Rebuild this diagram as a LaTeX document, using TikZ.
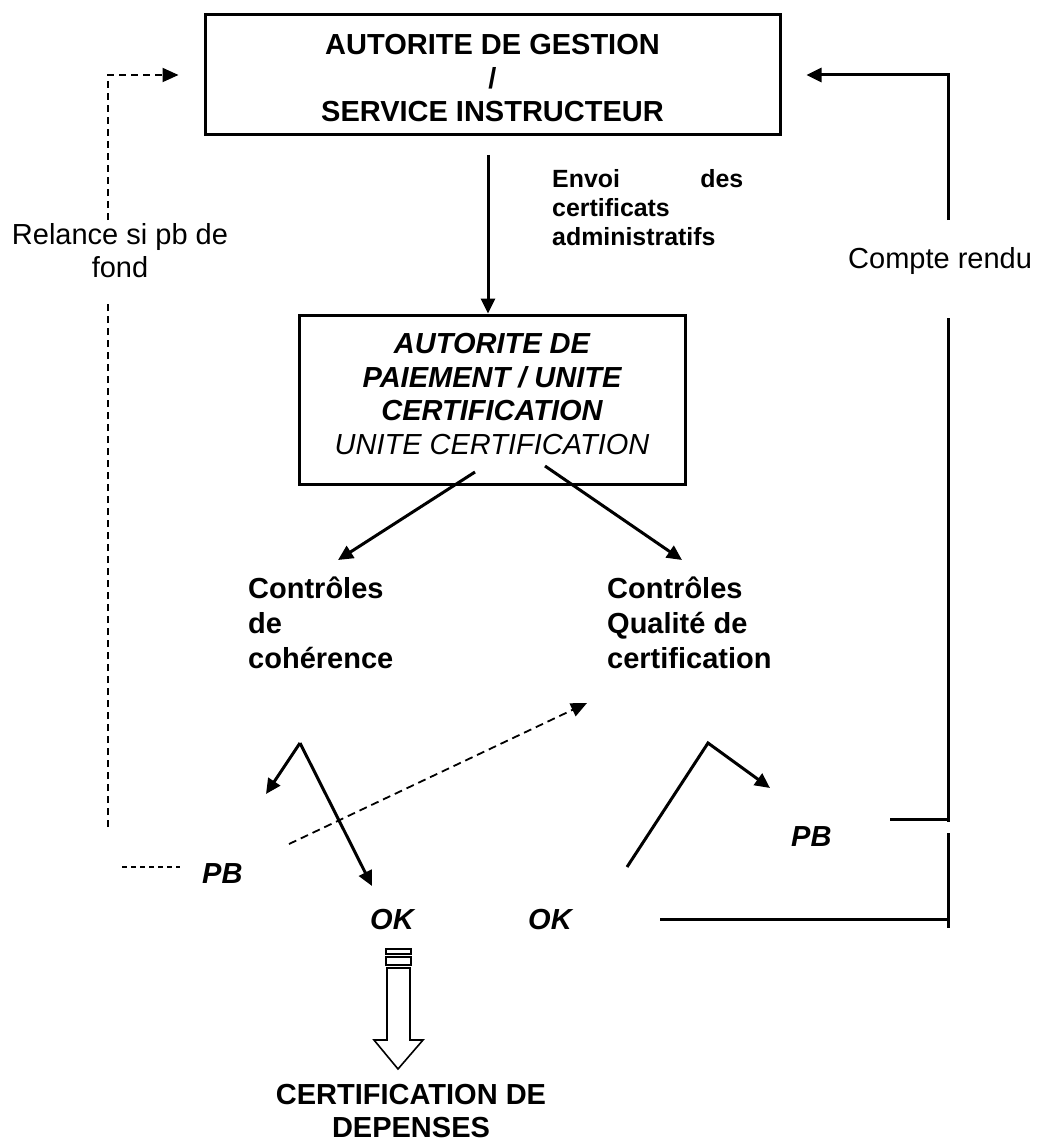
\documentclass[tikz,border=0pt]{standalone}
\usepackage{fontspec}
\setmainfont{Liberation Sans}
\usetikzlibrary{arrows.meta}
\newcommand\myBig{\fontsize{29}{33.5}\selectfont}
\newcommand\mySmall{\fontsize{24.9}{28.6}\selectfont}
\begin{document}
\begin{tikzpicture}[x=1pt,y=-1pt,
  box/.style={draw, line width=3pt, inner sep=0pt},
  ln/.style={line width=3pt},
  arr/.style={line width=3pt, -{Triangle[length=15pt,width=14pt]}},
  dsh/.style={line width=2pt, dash pattern=on 7pt off 5pt},
  dtip/.style={-{Triangle[length=16pt,width=14pt]}},
  txt/.style={inner sep=0pt, anchor=base west, font=\myBig},
  blk/.style={line width=1.6pt, line join=miter}]
\useasboundingbox (0,0) rectangle (1036,1142);

% boxes
\node[box, minimum width=575pt, minimum height=120pt, align=center, font=\myBig\bfseries] (ag) at (492.5,75)
  {\rule{0pt}{27pt}AUTORITE DE GESTION\\/\\SERVICE INSTRUCTEUR};
\node[box, minimum width=386pt, minimum height=169pt, align=center, font=\myBig] (ap) at (492,399.5)
  {{\bfseries\itshape AUTORITE DE}\\{\bfseries\itshape PAIEMENT / UNITE}\\{\bfseries\itshape CERTIFICATION}\\{\itshape UNITE CERTIFICATION\rule[-11pt]{0pt}{0pt}}};

% texts
\node[txt] (rl) at (120,244) [anchor=base] {\parbox[t]{240pt}{\centering Relance si pb de\\fond}};
\node[txt] (cr) at (848,268) {Compte rendu};
\node[txt] (env) at (552,188) {\mySmall\bfseries\parbox[t]{191pt}{Envoi\hfill des\\certificats\\administratifs}};
\node[txt] (cc) at (248,598) {\fontsize{29}{35}\selectfont\bfseries\parbox[t]{200pt}{Contr\^oles\\de\\coh\'erence}};
\node[txt] (cq) at (607,598) {\fontsize{29}{35}\selectfont\bfseries\parbox[t]{220pt}{Contr\^oles\\Qualit\'e de\\certification}};
\node[txt, font=\myBig\bfseries\itshape] (pbL) at (202,883) {PB};
\node[txt, font=\myBig\bfseries\itshape] (pbR) at (791,846) {PB};
\node[txt, font=\myBig\bfseries\itshape] (ok1) at (370,929) {OK};
\node[txt, font=\myBig\bfseries\itshape] (ok2) at (528,929) {OK};
\node[txt, anchor=base, font=\myBig\bfseries] (cd) at (411,1104) {\parbox[t]{320pt}{\centering CERTIFICATION DE\\DEPENSES}};

% relance dashed
\coordinate (rlA) at (108,827);
\coordinate (rlB) at (108,303);
\coordinate (rlC) at (108,220);
\draw[dsh] (rlA) -- (rlB);
\draw[dsh, dtip] (rlC) |- ([xshift=-25pt]ag.west);

% compte rendu
\coordinate (crA) at (948,220);
\draw[arr] (crA) |- ([xshift=25pt]ag.east);
\coordinate (crB) at (948,318);
\coordinate (crC) at (948,822);
\draw[ln] (crB) -- (crC);
\coordinate (pbE) at (890,819);
\draw[ln] (pbE) -- (pbE -| crB);
\coordinate (crE) at (948,833);
\coordinate (crF) at (948,928);
\draw[ln] (crE) -- (crF);
\coordinate (okE) at (660,919);
\draw[ln] (okE) -- (okE -| crE);

% main down arrow
\coordinate (dA) at (488,155);
\draw[arr] (dA) -- (ap.north -| dA);

% box to controls
\coordinate (l1) at (475,472);
\coordinate (l2) at (338,560);
\draw[arr] (l1) -- (l2);
\coordinate (r1) at (545,466);
\coordinate (r2) at (682,560);
\draw[arr] (r1) -- (r2);

% left V
\coordinate (vL) at (300,743);
\coordinate (vLa) at (266,794);
\coordinate (vLb) at (372,886);
\draw[arr] (vL) -- (vLa);
\draw[arr] (vL) -- (vLb);

% dashed diagonal
\coordinate (dg1) at (289,844);
\coordinate (dg2) at (587,703);
\draw[dsh, line width=1.8pt, dash pattern=on 8pt off 5pt, dtip] (dg1) -- (dg2);

% short dashed
\coordinate (sd1) at (122,867);
\coordinate (sd2) at (180,867);
\draw[line width=1.5pt, dash pattern=on 5pt off 4pt] (sd1) -- (sd2);

% right V
\coordinate (vR0) at (627,867);
\coordinate (vR) at (708,743);
\coordinate (vRb) at (770,788);
\draw[arr] (vR0) -- (vR) -- (vRb);

% block arrow
\draw[blk] (386,949) rectangle (411,954);
\draw[blk] (386,957) rectangle (411,965);
\draw[blk] (387,968) -- (387,1040) -- (374,1040) -- (398,1069) -- (423,1040) -- (410,1040) -- (410,968) -- cycle;
\end{tikzpicture}
\end{document}
